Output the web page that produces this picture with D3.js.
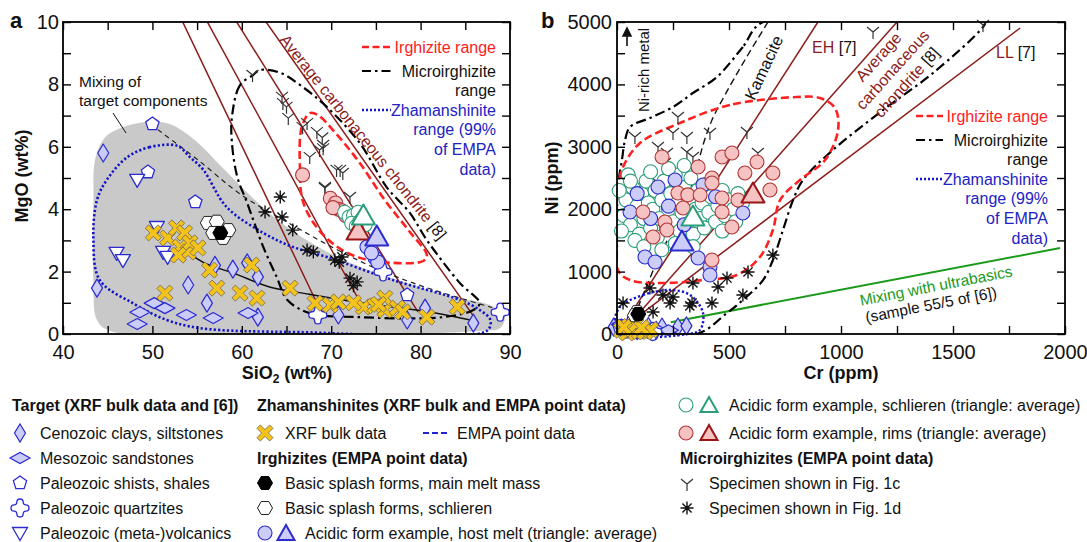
<!DOCTYPE html>
<html>
<head>
<meta charset="utf-8">
<script src="https://cdn.jsdelivr.net/npm/d3@7"></script>
<style>
  body { margin: 0; background: #fff; }
  svg { font-family: "Liberation Sans", Arial, sans-serif; }
</style>
</head>
<body>
<svg id="chart" width="1087" height="542"></svg>
<script>
// ---------- panel a: SiO2 (wt%) vs MgO (wt%) ----------
const xTicksA = [40, 45, 50, 55, 60, 65, 70, 75, 80, 85, 90];
const xLabelsA = [40, 50, 60, 70, 80, 90];
const yTicksA = [0, 1, 2, 3, 4, 5, 6, 7, 8, 9, 10];
const yLabelsA = [0, 2, 4, 6, 8, 10];

const targetAreaA = [[43.6,5.6],[44.7,6.3],[46.9,6.65],[50,6.8],[52,6.72],[54.8,6.2],[57.6,5.4],[60.9,4.45],[64,3.65],[67.6,2.95],[72,2.3],[77.7,1.7],[83.3,1.22],[87.8,0.92],[89.4,0.6],[88.9,0.19],[86.6,0.1],[45.3,0.1],[43.8,0.45],[43.4,1.73],[43.4,4.3]];
const mixDashA = [[50.6,6.55],[55,5.6],[60,4.45],[65,3.6],[70,2.8],[75,2.1],[80,1.55],[85,1.1],[88,0.85]];
const mixSolidA = [[53.6,2.69],[56,2.25],[59,1.96],[63.2,1.5],[66.8,1.31],[73.2,1.0],[80.7,0.72],[86.3,0.4]];
const chondriteA = [33.9, 21.7];
const chondriteEndsA = [[68.5,0.93],[73.4,0.93],[79.7,0.71],[86.4,0.38]];
const irghRangeA = [[67.6,7.08],[66.7,6.63],[66.5,5.35],[66.8,4.29],[68.2,3.49],[70.4,2.85],[73.2,2.44],[76.9,2.28],[80.3,2.34],[80.7,2.53],[78.8,3.27],[76.0,4.29],[73.2,5.48],[70.4,6.47],[68.5,7.02]];
const microRangeA = [[61.25,8.3],[59.8,7.98],[58.9,6.96],[58.9,6.12],[59.5,5.03],[60.6,4.2],[62.4,2.79],[63.9,1.83],[65.1,1.09],[67.6,0.67],[73.2,0.54],[82.5,0.54],[85.9,0.77],[86.6,0.99],[84.4,1.63],[80.7,3.01],[78.8,3.88],[76.2,4.71],[73.2,6.12],[69.5,7.28],[66.8,7.92],[64.3,8.37],[62.0,8.46]];
const zhamRangeA = [[52.8,6.03],[49.7,5.99],[47.2,5.67],[44.9,4.94],[43.8,4.29],[43.4,3.01],[44.1,1.73],[47.8,0.99],[51.6,0.45],[55.3,0.19],[66.5,0.06],[87.4,0.1],[87.8,0.45],[86.6,0.77],[84.4,1.09],[76.9,1.73],[69.5,2.47],[65.7,2.79],[62.4,3.24],[58.3,4.07],[55.7,5.26],[54.2,5.67]];

const clayA = [[44.5,5.8],[43.8,1.47],[54.0,1.57],[56.1,0.99],[57.0,2.2],[59.0,2.08],[60.6,2.28],[61.8,1.83],[61.8,0.54],[70.8,0.61],[78.5,0.45],[80.5,0.83],[85.9,0.35]];
const sandA = [[48.6,0.7],[48.3,0.32],[50.2,0.99],[51.4,0.83],[53.8,0.61],[56.8,0.51],[60.7,0.67]];
const shaleA = [[50,6.73],[49.5,5.19],[54.8,4.23],[78.5,1.25]];
const quartzA = [[68.5,0.61],[75.8,1.99],[88.9,0.7]];
const volcA = [[48.3,4.94],[50.5,3.43],[46.0,2.6],[46.7,2.37],[51.2,2.63],[51.7,2.47]];
const xrfA = [[50.1,3.24],[51.7,3.08],[52.7,3.4],[53.6,3.24],[53.1,2.79],[54.0,2.63],[54.2,2.92],[55.1,2.76],[52.9,2.53],[56.4,2.05],[57.2,1.47],[59.8,1.31],[61.1,2.21],[61.7,1.15],[51.4,1.31],[65.4,1.47],[68.2,0.99],[69.9,0.93],[70.8,1.03],[73.6,0.87],[74.9,0.9],[76.0,0.77],[76.0,1.15],[77.4,0.83],[78.0,0.71],[80.7,0.54],[84.1,0.87],[72.5,1.0],[75.3,0.95]];
const hexWhiteA = [[56.2,3.56],[57.2,3.6],[56.8,3.24],[57.9,3.08],[58.5,3.33]];
const hexBlackA = [[57.6,3.24]];
const hostA = [[74.0,2.79],[74.9,2.44],[75.2,2.31],[74.5,2.6]];
const hostAvgA = [[75.1,3.08]];
const schlierenA = [[71.5,3.9],[72.0,3.75],[72.5,3.8],[73.0,3.9],[73.5,3.7],[72.3,3.55],[73.2,3.6],[73.8,3.5],[72.8,3.45]];
const schlierenAvgA = [[73.6,3.75]];
const rimsA = [[66.8,5.1],[69.9,4.35],[70.5,4.2],[70.8,4.0],[71.2,3.95],[70.2,4.05],[71.6,3.8]];
const rimsAvgA = [[73.0,3.27]];
const fig1cA = [[61.2,8.3],[64.6,7.4],[65.2,6.92],[66.8,6.63],[68.4,6.47],[69.1,6.06],[67.6,5.67],[68.7,5.9],[70.6,5.26],[71.3,5.16],[69.3,4.71],[72.1,4.39],[64.5,7.6],[65.0,7.28],[67.3,6.76],[69.0,6.3],[69.1,5.95],[71.0,5.26],[69.3,4.68]];
const fig1dA = [[64.3,4.39],[62.6,3.91],[64.5,3.75],[65.7,3.33],[67.3,2.69],[70.4,2.37],[71.2,2.47],[72.1,1.79],[72.9,1.67],[68.0,2.63],[70.9,2.3],[72.5,1.55]];

// ---------- panel b: Cr (ppm) vs Ni (ppm) ----------
const xTicksB = [0, 250, 500, 750, 1000, 1250, 1500, 1750, 2000];
const xLabelsB = [0, 500, 1000, 1500, 2000];
const yTicksB = [0, 500, 1000, 1500, 2000, 2500, 3000, 3500, 4000, 4500, 5000];
const yLabelsB = [0, 1000, 2000, 3000, 4000, 5000];

const ehLineB = [[45,230],[897,5000]];
const ccLineB = [[80,260],[1250,5000]];
const llLineB = [[100,300],[1800,4904]];
const ultrabasicLineB = [[240,190],[1978,1378]];
const kamaciteB = [[674,5000],[571,4391],[482,3830],[424,3429],[384,3029],[348,2548],[281,1907],[192,1266],[125,705],[80,304]];
const irghRangeB = [[804,3798],[504,3670],[281,3381],[103,3061],[27,2676],[4,2308],[4,1026],[58,865],[205,817],[384,865],[536,946],[638,1234],[696,1667],[728,2147],[817,2468],[929,2788],[987,3269],[973,3622],[906,3782]];
const microRangeB = [[652,5000],[562,4600],[446,4119],[339,3862],[250,3638],[147,3462],[58,3317],[36,3109],[22,2788],[4,2356],[0,1346],[0,16],[357,0],[491,337],[562,545],[652,865],[696,1186],[741,1667],[786,2147],[830,2468],[964,2949],[1188,3590],[1411,4183],[1634,4920],[1643,5000]];
const zhamRangeB = [[13,433],[116,625],[237,705],[326,625],[384,337],[370,64],[312,0],[27,-16],[-9,176]];

const clayB = [[-15,110],[30,60],[80,90],[140,120],[201,112],[272,112],[310,130],[175,60]];
const sandB = [[20,150],[60,40],[110,60],[170,80],[230,60]];
const shaleB = [[10,120],[40,30],[100,50]];
const quartzB = [[60,150],[160,40]];
const volcB = [[15,90],[90,30]];
const xrfB = [[20,60],[45,16],[70,80],[100,40],[125,32],[55,120],[85,150],[150,70],[30,110],[110,100]];
const hexWhiteB = [[89,350],[80,300]];
const hexBlackB = [[95,320]];
const hostB = [[125,1234],[170,1154],[362,1218],[415,1074],[415,946],[259,2468],[384,2388],[183,2356],[58,1955],[562,1939],[90,2250],[300,1750],[230,2050],[440,2200],[150,1850]];
const hostAvgB = [[290,1458]];
const schlierenB = [[30,1900],[40,2150],[60,1750],[70,2350],[90,2050],[100,1600],[110,2250],[120,1850],[130,2450],[140,2100],[150,1700],[160,2000],[170,2300],[180,1550],[190,1850],[200,2150],[210,2450],[220,1700],[230,2000],[240,2250],[250,1800],[260,2550],[270,2100],[280,1650],[290,1950],[300,2350],[310,1750],[320,2150],[330,2500],[340,1600],[350,2000],[360,2300],[370,1850],[380,2100],[390,1700],[400,2400],[410,1950],[420,2200],[440,1800],[450,2050],[470,2300],[480,1900],[500,2150],[520,2000],[540,2250],[560,2100],[20,1650],[50,2550],[80,1500],[150,2600],[230,2650],[300,2700],[120,1400],[200,1350],[260,1450],[340,1400],[10,2300],[60,2450],[470,1650],[530,1800]];
const schlierenAvgB = [[339,1859]];
const rimsB = [[201,2837],[362,2676],[424,2500],[469,2837],[513,2901],[571,2580],[625,2756],[696,2580],[272,2260],[316,2230],[371,2228],[424,2420],[469,2180],[469,1955],[513,1715],[295,2019],[214,1795],[223,1667],[161,1554],[116,1955],[540,2147],[683,2308],[424,1186]];
const rimsAvgB = [[607,2228]];
const fig1cB = [[80,3157],[272,3478],[250,3221],[183,2997],[312,3157],[223,2901],[312,2917],[339,2837],[415,3221],[580,3237],[629,2901],[179,2436],[214,2740],[1143,4840],[1634,4952]];
const fig1dB = [[147,737],[205,625],[250,593],[237,497],[335,497],[325,450],[339,817],[451,753],[491,897],[585,994],[424,497],[562,625],[696,1266],[161,353],[27,497],[80,112]];

// ---------- scales ----------
const svg = d3.select('#chart');
const xA = d3.scaleLinear().domain([40, 90]).range([63, 510]);
const yA = d3.scaleLinear().domain([0, 10]).range([334, 22]);
const xB = d3.scaleLinear().domain([0, 2000]).range([617, 1065]);
const yB = d3.scaleLinear().domain([0, 5000]).range([334, 22]);

const BLUE = '#2b2bd0', BLUEFILL = '#cbcdf8', RED = '#ff2020', MAROON = '#8b1c1c';
const TEAL = '#2a9d7a', PINK = '#f6c2c2', PINKSTROKE = '#b03535', GOLD = '#f3c21b';

// ---------- marker shapes ----------
function regular(n, r, rot) {
  let pts = d3.range(n).map(i => {
    let a = rot + i * 2 * Math.PI / n;
    return [r * Math.cos(a), r * Math.sin(a)];
  });
  return 'M' + pts.map(p => p.join(',')).join('L') + 'Z';
}
function quartzPath(r, a) {
  return `M${-a},${-r + a}A${a},${a} 0 0 1 ${a},${-r + a}Q${a},${-a} ${r - a},${-a}` +
    `A${a},${a} 0 0 1 ${r - a},${a}Q${a},${a} ${a},${r - a}` +
    `A${a},${a} 0 0 1 ${-a},${r - a}Q${-a},${a} ${-r + a},${a}` +
    `A${a},${a} 0 0 1 ${-r + a},${-a}Q${-a},${-a} ${-a},${-r + a}Z`;
}
function crossPath(L, t) {
  let p = [[-t,-L],[t,-L],[t,-t],[L,-t],[L,t],[t,t],[t,L],[-t,L],[-t,t],[-L,t],[-L,-t],[-t,-t]];
  let c = Math.SQRT1_2;
  return 'M' + p.map(([x, y]) => [(x - y) * c, (x + y) * c].join(',')).join('L') + 'Z';
}
const shapes = {
  tallDiamond: 'M0,-9L5.5,0L0,9L-5.5,0Z',
  wideDiamond: 'M-10,0L0,-5.5L10,0L0,5.5Z',
  pentagon: regular(5, 7, -Math.PI / 2),
  quartz: quartzPath(9, 3.2),
  triDown: 'M-7.5,-5.5L7.5,-5.5L0,7.5Z',
  cross: crossPath(9, 2.4),
  hex: regular(6, 7.5, 0),
  circle: d3.symbol(d3.symbolCircle, Math.PI * 49)(),
  triUp: 'M0,-12.5L11.5,7.5L-11.5,7.5Z',
  yMark: 'M0,0L0,7M0,0L-6,-5M0,0L6,-5',
  star: 'M-6.5,0L6.5,0M0,-6.5L0,6.5M-4.6,-4.6L4.6,4.6M-4.6,4.6L4.6,-4.6'
};
const styles = {
  clay: { shape: 'tallDiamond', fill: BLUEFILL, stroke: BLUE, sw: 1.2 },
  sand: { shape: 'wideDiamond', fill: BLUEFILL, stroke: BLUE, sw: 1.2 },
  shale: { shape: 'pentagon', fill: '#fff', stroke: BLUE, sw: 1.3 },
  quartz: { shape: 'quartz', fill: '#fff', stroke: BLUE, sw: 1.3 },
  volc: { shape: 'triDown', fill: '#fff', stroke: BLUE, sw: 1.3 },
  xrf: { shape: 'cross', fill: GOLD, stroke: '#6d6650', sw: 0.8 },
  hexBlack: { shape: 'hex', fill: '#000', stroke: '#000', sw: 1 },
  hexWhite: { shape: 'hex', fill: '#fff', stroke: '#222', sw: 1 },
  host: { shape: 'circle', fill: BLUEFILL, stroke: BLUE, sw: 1.1 },
  hostAvg: { shape: 'triUp', fill: BLUEFILL, stroke: BLUE, sw: 2 },
  schlieren: { shape: 'circle', fill: '#fff', stroke: TEAL, sw: 1.1 },
  schlierenAvg: { shape: 'triUp', fill: '#fff', stroke: TEAL, sw: 2 },
  rims: { shape: 'circle', fill: PINK, stroke: PINKSTROKE, sw: 1.1 },
  rimsAvg: { shape: 'triUp', fill: PINK, stroke: '#9a1515', sw: 2 },
  fig1c: { shape: 'yMark', fill: 'none', stroke: '#333', sw: 1.2 },
  fig1d: { shape: 'star', fill: 'none', stroke: '#111', sw: 1.4 }
};

function drawPoints(g, pts, x, y, key) {
  const st = styles[key];
  g.append('g').selectAll('path').data(pts).join('path')
    .attr('d', shapes[st.shape])
    .attr('transform', d => `translate(${x(d[0])},${y(d[1])})`)
    .attr('fill', st.fill).attr('stroke', st.stroke).attr('stroke-width', st.sw)
    .attr('stroke-linejoin', 'round');
}
function legendMark(x, y, key) {
  const st = styles[key];
  svg.append('path').attr('d', shapes[st.shape]).attr('transform', `translate(${x},${y})`)
    .attr('fill', st.fill).attr('stroke', st.stroke).attr('stroke-width', st.sw);
}

// ---------- frames and axes ----------
function drawAxes(x, y, xt, xl, yt, yl, padX, padY) {
  const [x0, x1] = x.range(), [y0, y1] = y.range();
  const fmt = list => d => list.includes(d) ? d : '';
  const styleAxis = g => {
    g.select('.domain').remove();
    g.selectAll('line').attr('stroke', '#000').attr('stroke-width', 1.4);
    g.attr('font-size', 20).attr('font-family', '"Liberation Sans", Arial, sans-serif');
    g.selectAll('text').attr('fill', '#111');
  };
  svg.append('g').attr('transform', `translate(0,${y0})`)
    .call(d3.axisBottom(x).tickValues(xt).tickSize(-8).tickPadding(padX).tickFormat(fmt(xl))).call(styleAxis);
  svg.append('g').attr('transform', `translate(0,${y1})`)
    .call(d3.axisTop(x).tickValues(xt).tickSize(-8).tickFormat('')).call(styleAxis);
  svg.append('g').attr('transform', `translate(${x0},0)`)
    .call(d3.axisLeft(y).tickValues(yt).tickSize(-8).tickPadding(padY).tickFormat(fmt(yl))).call(styleAxis);
  svg.append('g').attr('transform', `translate(${x1},0)`)
    .call(d3.axisRight(y).tickValues(yt).tickSize(-8).tickFormat('')).call(styleAxis);
  svg.append('rect').attr('x', x0).attr('y', y1).attr('width', x1 - x0).attr('height', y0 - y1)
    .attr('fill', 'none').attr('stroke', '#000').attr('stroke-width', 1.8);
}

function clipFor(id, x, y) {
  const [x0, x1] = x.range(), [y0, y1] = y.range();
  svg.append('clipPath').attr('id', id).append('rect')
    .attr('x', x0).attr('y', y1).attr('width', x1 - x0).attr('height', y0 - y1);
}
clipFor('clipA', xA, yA);
clipFor('clipB', xB, yB);

function path(g, data, x, y, curve, o) {
  const gen = d3.line().x(d => x(d[0])).y(d => y(d[1])).curve(curve);
  return g.append('path').attr('d', gen(data)).attr('fill', o.fill || 'none')
    .attr('stroke', o.stroke || 'none').attr('stroke-width', o.sw || 1)
    .attr('stroke-dasharray', o.dash || null).attr('stroke-linecap', o.cap || 'butt');
}

// ---------- panel a ----------
const gA = svg.append('g').attr('clip-path', 'url(#clipA)');
path(gA, targetAreaA, xA, yA, d3.curveCatmullRomClosed, { fill: '#c9c9c9' });
chondriteEndsA.forEach(e => path(gA, [chondriteA, e], xA, yA, d3.curveLinear, { stroke: MAROON, sw: 1.5 }));
path(gA, mixDashA, xA, yA, d3.curveCatmullRom, { stroke: '#222', sw: 1.2, dash: '5,4' });
path(gA, mixSolidA, xA, yA, d3.curveCatmullRom, { stroke: '#111', sw: 1.5 });
path(gA, zhamRangeA, xA, yA, d3.curveCatmullRomClosed, { stroke: '#1414c8', sw: 2.6, dash: '2.2,2.2' });
path(gA, microRangeA, xA, yA, d3.curveCatmullRomClosed, { stroke: '#000', sw: 2.2, dash: '10,4,2.5,4' });
path(gA, irghRangeA, xA, yA, d3.curveCatmullRomClosed, { stroke: RED, sw: 2.6, dash: '8,4' });

const pA = svg.append('g');
drawPoints(pA, clayA, xA, yA, 'clay');
drawPoints(pA, sandA, xA, yA, 'sand');
drawPoints(pA, shaleA, xA, yA, 'shale');
drawPoints(pA, quartzA, xA, yA, 'quartz');
drawPoints(pA, volcA, xA, yA, 'volc');
drawPoints(pA, fig1cA, xA, yA, 'fig1c');
drawPoints(pA, fig1dA, xA, yA, 'fig1d');
drawPoints(pA, xrfA, xA, yA, 'xrf');
drawPoints(pA, hexWhiteA, xA, yA, 'hexWhite');
drawPoints(pA, hexBlackA, xA, yA, 'hexBlack');
drawPoints(pA, rimsA, xA, yA, 'rims');
drawPoints(pA, schlierenA, xA, yA, 'schlieren');
drawPoints(pA, hostA, xA, yA, 'host');
drawPoints(pA, rimsAvgA, xA, yA, 'rimsAvg');
drawPoints(pA, schlierenAvgA, xA, yA, 'schlierenAvg');
drawPoints(pA, hostAvgA, xA, yA, 'hostAvg');

drawAxes(xA, yA, xTicksA, xLabelsA, yTicksA, yLabelsA, 11, 4);

// ---------- panel b ----------
const gB = svg.append('g').attr('clip-path', 'url(#clipB)');
[ehLineB, ccLineB, llLineB].forEach(l => path(gB, l, xB, yB, d3.curveLinear, { stroke: MAROON, sw: 1.5 }));
path(gB, ultrabasicLineB, xB, yB, d3.curveLinear, { stroke: '#1c9a1c', sw: 2 });
path(gB, kamaciteB, xB, yB, d3.curveCatmullRom, { stroke: '#111', sw: 1.4, dash: '7,4' });
path(gB, microRangeB, xB, yB, d3.curveCatmullRomClosed, { stroke: '#000', sw: 2.2, dash: '10,4,2.5,4' });
path(gB, irghRangeB, xB, yB, d3.curveCatmullRomClosed, { stroke: RED, sw: 2.6, dash: '8,4' });
path(svg, zhamRangeB, xB, yB, d3.curveCatmullRomClosed, { stroke: '#1414c8', sw: 2.4, dash: '2.2,2.2' });

const pB = svg.append('g');
drawPoints(pB, fig1cB, xB, yB, 'fig1c');
drawPoints(pB, fig1dB, xB, yB, 'fig1d');
drawPoints(pB, schlierenB, xB, yB, 'schlieren');
drawPoints(pB, hostB, xB, yB, 'host');
drawPoints(pB, rimsB, xB, yB, 'rims');
drawPoints(pB, clayB, xB, yB, 'clay');
drawPoints(pB, sandB, xB, yB, 'sand');
drawPoints(pB, shaleB, xB, yB, 'shale');
drawPoints(pB, quartzB, xB, yB, 'quartz');
drawPoints(pB, volcB, xB, yB, 'volc');
drawPoints(pB, xrfB, xB, yB, 'xrf');
drawPoints(pB, hexWhiteB, xB, yB, 'hexWhite');
drawPoints(pB, hexBlackB, xB, yB, 'hexBlack');
drawPoints(pB, schlierenAvgB, xB, yB, 'schlierenAvg');
drawPoints(pB, hostAvgB, xB, yB, 'hostAvg');
drawPoints(pB, rimsAvgB, xB, yB, 'rimsAvg');

drawAxes(xB, yB, xTicksB, xLabelsB, yTicksB, yLabelsB, 11, 5);

// ---------- text: titles, panel labels ----------
function txt(x, y, s, o = {}) {
  return svg.append('text').attr('x', x).attr('y', y).text(s)
    .attr('font-size', o.size || 16).attr('fill', o.fill || '#111')
    .attr('font-weight', o.bold ? 'bold' : null).attr('text-anchor', o.anchor || 'start');
}
txt(10, 28, 'a', { size: 22, bold: true });
txt(541, 28, 'b', { size: 22, bold: true });

const sio2 = txt(287, 379, 'SiO', { size: 18, bold: true, anchor: 'middle' });
sio2.append('tspan').text('2').attr('font-size', 12).attr('dy', 4);
sio2.append('tspan').text(' (wt%)').attr('dy', -4);
txt(841, 379, 'Cr (ppm)', { size: 18, bold: true, anchor: 'middle' });
svg.append('text').attr('transform', 'translate(28,176) rotate(-90)').attr('text-anchor', 'middle')
  .attr('font-size', 18).attr('font-weight', 'bold').attr('fill', '#111').text('MgO (wt%)');
svg.append('text').attr('transform', 'translate(558,178) rotate(-90)').attr('text-anchor', 'middle')
  .attr('font-size', 18).attr('font-weight', 'bold').attr('fill', '#111').text('Ni (ppm)');

// panel a annotations
txt(79, 87, 'Mixing of', { size: 15.5 });
txt(79, 106, 'target components', { size: 15.5 });
svg.append('line').attr('x1', 113).attr('y1', 113).attr('x2', 126).attr('y2', 133).attr('stroke', '#111').attr('stroke-width', 1);
const ccA = svg.append('text').attr('transform', 'translate(279,40) rotate(51.5)').attr('font-size', 16);
ccA.append('tspan').text('Average carbonaceous chondrite').attr('fill', MAROON);
ccA.append('tspan').text(' [8]').attr('fill', '#111');

function rangeLegend(xs, xe, xText, y0) {
  svg.append('line').attr('x1', xs).attr('x2', xe).attr('y1', y0).attr('y2', y0)
    .attr('stroke', RED).attr('stroke-width', 2.6).attr('stroke-dasharray', '7,3.5');
  txt(xText, y0 + 5.5, 'Irghizite range', { fill: RED, anchor: 'end' });
  svg.append('line').attr('x1', xs).attr('x2', xe).attr('y1', y0 + 24).attr('y2', y0 + 24)
    .attr('stroke', '#000').attr('stroke-width', 2.2).attr('stroke-dasharray', '9,4,2.5,4');
  txt(xText, y0 + 29.5, 'Microirghizite', { anchor: 'end' });
  txt(xText, y0 + 48.5, 'range', { anchor: 'end' });
  svg.append('line').attr('x1', xs).attr('x2', xe).attr('y1', y0 + 63).attr('y2', y0 + 63)
    .attr('stroke', '#1414c8').attr('stroke-width', 2.4).attr('stroke-dasharray', '2,2');
  ['Zhamanshinite', 'range (99%', 'of EMPA', 'data)'].forEach((s, i) =>
    txt(xText, y0 + 68.5 + i * 19.7, s, { fill: '#2222c4', anchor: 'end' }));
}
rangeLegend(362, 391, 496, 47);
rangeLegend(916, 943, 1048, 116);

// panel b annotations
const eh = txt(812, 53, '');
eh.append('tspan').attr('fill', MAROON).text('EH');
eh.append('tspan').attr('fill', '#111').text(' [7]');
const ll = txt(996, 58, '');
ll.append('tspan').attr('fill', MAROON).text('LL');
ll.append('tspan').attr('fill', '#111').text(' [7]');
const ccB = svg.append('text').attr('transform', 'translate(893,70) rotate(-48)')
  .attr('font-size', 16).attr('text-anchor', 'middle');
ccB.append('tspan').attr('x', 0).attr('y', -14).attr('fill', MAROON).text('Average');
ccB.append('tspan').attr('x', 0).attr('y', 5).attr('fill', MAROON).text('carbonaceous');
const ccB3 = ccB.append('tspan').attr('x', 0).attr('y', 24);
ccB3.append('tspan').attr('fill', MAROON).text('chondrite');
ccB3.append('tspan').attr('fill', '#111').text(' [8]');
svg.append('text').attr('transform', 'translate(649,70) rotate(-90)').attr('text-anchor', 'middle')
  .attr('font-size', 15).attr('fill', '#111').text('Ni-rich metal');
svg.append('path').attr('d', 'M627,46L627,30M623,36L627,28L631,36Z').attr('stroke', '#111')
  .attr('stroke-width', 1.6).attr('fill', '#111');
svg.append('text').attr('transform', 'translate(769,70) rotate(-65)').attr('text-anchor', 'middle')
  .attr('font-size', 16.5).attr('fill', '#111').text('Kamacite');
svg.append('text').attr('transform', 'translate(937,291) rotate(-11)').attr('text-anchor', 'middle')
  .attr('font-size', 15.5).attr('fill', '#1c9a1c').text('Mixing with ultrabasics');
svg.append('text').attr('transform', 'translate(932,310) rotate(-11)').attr('text-anchor', 'middle')
  .attr('font-size', 15.5).attr('fill', '#111').text('(sample 55/5 of [6])');

// ---------- bottom legend ----------
txt(12, 411, 'Target (XRF bulk data and [6])', { bold: true });
[['clay', 'Cenozoic clays, siltstones'], ['sand', 'Mesozoic sandstones'], ['shale', 'Paleozoic shists, shales'],
 ['quartz', 'Paleozoic quartzites'], ['volc', 'Paleozoic (meta-)volcanics']].forEach(([k, s], i) => {
  legendMark(20, 433 + i * 25, k);
  txt(40, 438.5 + i * 25, s);
});
txt(257, 411, 'Zhamanshinites (XRF bulk and EMPA point data)', { bold: true });
legendMark(265, 433, 'xrf');
txt(285, 438.5, 'XRF bulk data');
svg.append('line').attr('x1', 423).attr('x2', 449).attr('y1', 433).attr('y2', 433)
  .attr('stroke', '#2222d0').attr('stroke-width', 2).attr('stroke-dasharray', '6,3');
txt(457, 438.5, 'EMPA point data');
txt(257, 463.5, 'Irghizites (EMPA point data)', { bold: true });
legendMark(265, 483, 'hexBlack');
txt(285, 488.5, 'Basic splash forms, main melt mass');
legendMark(265, 508, 'hexWhite');
txt(285, 513.5, 'Basic splash forms, schlieren');
legendMark(265, 533, 'host');
svg.append('path').attr('d', 'M0,-9L8.5,6L-8.5,6Z').attr('transform', 'translate(286,534)')
  .attr('fill', BLUEFILL).attr('stroke', BLUE).attr('stroke-width', 2);
txt(305, 538.5, 'Acidic form example, host melt (triangle: average)');

legendMark(686, 405, 'schlieren');
svg.append('path').attr('d', 'M0,-9L8.5,6L-8.5,6Z').attr('transform', 'translate(709,406)')
  .attr('fill', '#fff').attr('stroke', TEAL).attr('stroke-width', 2);
txt(729, 410.5, 'Acidic form example, schlieren (triangle: average)');
legendMark(686, 433, 'rims');
svg.append('path').attr('d', 'M0,-9L8.5,6L-8.5,6Z').attr('transform', 'translate(709,434)')
  .attr('fill', PINK).attr('stroke', '#9a1515').attr('stroke-width', 2);
txt(729, 438.5, 'Acidic form example, rims (triangle: average)');
txt(680, 463.5, 'Microirghizites (EMPA point data)', { bold: true });
legendMark(687, 484, 'fig1c');
txt(709, 488.5, 'Specimen shown in Fig. 1c');
legendMark(687, 508, 'fig1d');
txt(709, 513.5, 'Specimen shown in Fig. 1d');
</script>
</body>
</html>
